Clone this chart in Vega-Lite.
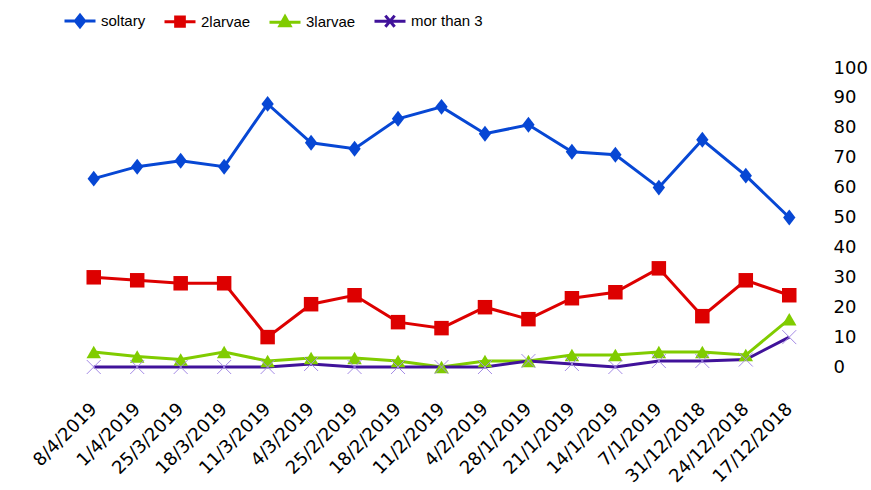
{
  "$schema": "https://vega.github.io/schema/vega-lite/v6.json",
  "width": 739,
  "height": 299,
  "autosize": {"type": "none"},
  "padding": {"left": 72, "top": 68, "right": 60, "bottom": 123},
  "background": "white",
  "config": {"view": {"stroke": null}, "font": "DejaVu Sans"},
  "data": {"values": [
    {"date": "8/4/2019", "series": "soltary", "value": 63},
    {"date": "1/4/2019", "series": "soltary", "value": 67},
    {"date": "25/3/2019", "series": "soltary", "value": 69},
    {"date": "18/3/2019", "series": "soltary", "value": 67},
    {"date": "11/3/2019", "series": "soltary", "value": 88},
    {"date": "4/3/2019", "series": "soltary", "value": 75},
    {"date": "25/2/2019", "series": "soltary", "value": 73},
    {"date": "18/2/2019", "series": "soltary", "value": 83},
    {"date": "11/2/2019", "series": "soltary", "value": 87},
    {"date": "4/2/2019", "series": "soltary", "value": 78},
    {"date": "28/1/2019", "series": "soltary", "value": 81},
    {"date": "21/1/2019", "series": "soltary", "value": 72},
    {"date": "14/1/2019", "series": "soltary", "value": 71},
    {"date": "7/1/2019", "series": "soltary", "value": 60},
    {"date": "31/12/2018", "series": "soltary", "value": 76},
    {"date": "24/12/2018", "series": "soltary", "value": 64},
    {"date": "17/12/2018", "series": "soltary", "value": 50},
    {"date": "8/4/2019", "series": "2larvae", "value": 30},
    {"date": "1/4/2019", "series": "2larvae", "value": 29},
    {"date": "25/3/2019", "series": "2larvae", "value": 28},
    {"date": "18/3/2019", "series": "2larvae", "value": 28},
    {"date": "11/3/2019", "series": "2larvae", "value": 10},
    {"date": "4/3/2019", "series": "2larvae", "value": 21},
    {"date": "25/2/2019", "series": "2larvae", "value": 24},
    {"date": "18/2/2019", "series": "2larvae", "value": 15},
    {"date": "11/2/2019", "series": "2larvae", "value": 13},
    {"date": "4/2/2019", "series": "2larvae", "value": 20},
    {"date": "28/1/2019", "series": "2larvae", "value": 16},
    {"date": "21/1/2019", "series": "2larvae", "value": 23},
    {"date": "14/1/2019", "series": "2larvae", "value": 25},
    {"date": "7/1/2019", "series": "2larvae", "value": 33},
    {"date": "31/12/2018", "series": "2larvae", "value": 17},
    {"date": "24/12/2018", "series": "2larvae", "value": 29},
    {"date": "17/12/2018", "series": "2larvae", "value": 24},
    {"date": "8/4/2019", "series": "3larvae", "value": 5},
    {"date": "1/4/2019", "series": "3larvae", "value": 3.5},
    {"date": "25/3/2019", "series": "3larvae", "value": 2.5},
    {"date": "18/3/2019", "series": "3larvae", "value": 5},
    {"date": "11/3/2019", "series": "3larvae", "value": 2},
    {"date": "4/3/2019", "series": "3larvae", "value": 3},
    {"date": "25/2/2019", "series": "3larvae", "value": 3},
    {"date": "18/2/2019", "series": "3larvae", "value": 2},
    {"date": "11/2/2019", "series": "3larvae", "value": 0},
    {"date": "4/2/2019", "series": "3larvae", "value": 2},
    {"date": "28/1/2019", "series": "3larvae", "value": 2},
    {"date": "21/1/2019", "series": "3larvae", "value": 4},
    {"date": "14/1/2019", "series": "3larvae", "value": 4},
    {"date": "7/1/2019", "series": "3larvae", "value": 5},
    {"date": "31/12/2018", "series": "3larvae", "value": 5},
    {"date": "24/12/2018", "series": "3larvae", "value": 4},
    {"date": "17/12/2018", "series": "3larvae", "value": 16},
    {"date": "8/4/2019", "series": "mor than 3", "value": 0},
    {"date": "1/4/2019", "series": "mor than 3", "value": 0},
    {"date": "25/3/2019", "series": "mor than 3", "value": 0},
    {"date": "18/3/2019", "series": "mor than 3", "value": 0},
    {"date": "11/3/2019", "series": "mor than 3", "value": 0},
    {"date": "4/3/2019", "series": "mor than 3", "value": 1},
    {"date": "25/2/2019", "series": "mor than 3", "value": 0},
    {"date": "18/2/2019", "series": "mor than 3", "value": 0},
    {"date": "11/2/2019", "series": "mor than 3", "value": 0},
    {"date": "4/2/2019", "series": "mor than 3", "value": 0},
    {"date": "28/1/2019", "series": "mor than 3", "value": 2},
    {"date": "21/1/2019", "series": "mor than 3", "value": 1},
    {"date": "14/1/2019", "series": "mor than 3", "value": 0},
    {"date": "7/1/2019", "series": "mor than 3", "value": 2},
    {"date": "31/12/2018", "series": "mor than 3", "value": 2},
    {"date": "24/12/2018", "series": "mor than 3", "value": 2.5},
    {"date": "17/12/2018", "series": "mor than 3", "value": 10}
  ]},
  "encoding": {
    "x": {
      "field": "date", "type": "ordinal", "sort": null,
      "scale": {"type": "point", "padding": 0.5},
      "axis": {"title": null, "domain": false, "ticks": false, "labelAngle": -45, "labelAlign": "right", "labelBaseline": "middle", "labelFontSize": 18, "labelColor": "#000", "labelPadding": 39, "labelFont": "DejaVu Sans"}
    },
    "y": {
      "field": "value", "type": "quantitative",
      "scale": {"domain": [0, 100]},
      "axis": {"orient": "right", "title": null, "domain": false, "ticks": false, "grid": false, "values": [0, 10, 20, 30, 40, 50, 60, 70, 80, 90, 100], "labelFontSize": 18, "labelColor": "#000", "labelPadding": 22, "labelAlign": "left", "labelBaseline": "middle", "labelFont": "DejaVu Sans"}
    }
  },
  "layer": [
    {
      "mark": {"type": "line", "strokeWidth": 3},
      "encoding": {
        "color": {
          "field": "series", "type": "nominal",
          "scale": {"domain": ["soltary", "2larvae", "3larvae", "mor than 3"], "range": ["#0747D4", "#DD0000", "#80CC00", "#40129A"]},
          "legend": {
            "orient": "none", "legendX": -9, "legendY": -64, "direction": "horizontal", "title": null,
            "labelFont": "Liberation Sans", "labelFontSize": 15, "labelColor": "#000",
            "symbolSize": 961, "symbolStrokeWidth": 3, "labelOffset": 4, "columnPadding": 12,
            "encode": {"symbols": {"update": {
              "shape": {"signal": "datum.value === 'soltary' ? 'M-1,0L1,0M0,-0.38L0.3,0L0,0.38L-0.3,0Z' : datum.value === '2larvae' ? 'M-1,0L1,0M-0.28,-0.3L0.28,-0.3L0.28,0.3L-0.28,0.3Z' : datum.value === '3larvae' ? 'M-1,0L1,0M0,-0.36L0.33,0.24L-0.33,0.24Z' : 'M-1,0L1,0M-0.3,-0.36L0.3,0.36M-0.3,0.36L0.3,-0.36'"},
              "fill": {"signal": "scale('color', datum.value)"}
            }}}
          }
        },
        "detail": {"field": "series"}
      }
    },
    {
      "transform": [{"filter": "datum.series !== 'mor than 3'"}],
      "mark": {"type": "point", "filled": true, "opacity": 1, "size": 210},
      "encoding": {
        "color": {"field": "series", "type": "nominal", "legend": null},
        "shape": {
          "field": "series", "type": "nominal", "legend": null,
          "scale": {"domain": ["soltary", "2larvae", "3larvae"], "range": ["M0,-1.1L0.85,0L0,1.1L-0.85,0Z", "square", "triangle-up"]}
        }
      }
    },
    {
      "transform": [{"filter": "datum.series === 'mor than 3'"}],
      "mark": {"type": "point", "filled": false, "opacity": 1, "size": 196, "shape": "M-1,-1L1,1M-1,1L1,-1", "stroke": "#A58BE6", "strokeWidth": 1}
    }
  ]
}
